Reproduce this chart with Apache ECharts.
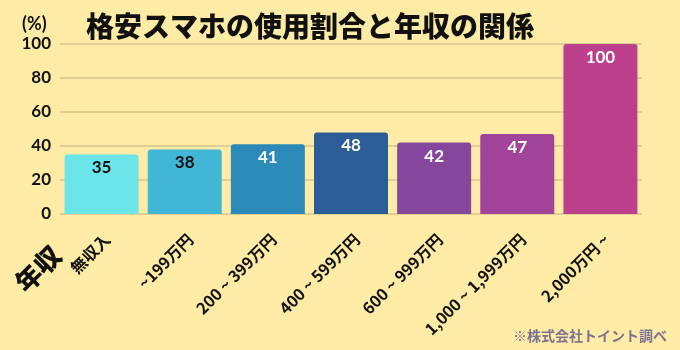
<!DOCTYPE html>
<html>
<head>
<meta charset="utf-8">
<script src="https://cdn.jsdelivr.net/npm/echarts@6/dist/echarts.min.js"></script>
<style>
  html, body { margin: 0; padding: 0; background: #feeba6; }
  #chart { width: 680px; height: 350px; }
</style>
</head>
<body>
<div id="chart"></div>
<script>
// 年収帯ごとの格安スマホ使用割合
const categories = ['無収入', '~199万円', '200 ~ 399万円', '400 ~ 599万円', '600 ~ 999万円', '1,000 ~ 1,999万円', '2,000万円 ~'];
const values = [35, 38, 41, 48, 42, 47, 100];
const barColors = ['#6ce5e8', '#41b6d6', '#2c8ab9', '#2d5d96', '#84479c', '#a3449b', '#bc3f8c'];
const labelColors = ['#111111', '#111111', '#ffffff', '#ffffff', '#ffffff', '#ffffff', '#ffffff'];
const yTicks = [0, 20, 40, 60, 80, 100];

const numFont = 'Lato, "Noto Sans", sans-serif';
const jpFont = '"Noto Sans CJK JP", sans-serif';

const chart = echarts.init(document.getElementById('chart'), null, { renderer: 'canvas' });
chart.setOption({
  backgroundColor: '#feeba6',
  animation: false,
  grid: { left: 60, right: 38, top: 44, bottom: 136 },
  title: [
    {
      text: '格安スマホの使用割合と年収の関係',
      left: 81, top: 7,
      textStyle: { fontFamily: jpFont, fontSize: 28, fontWeight: 900, color: '#111111' }
    },
    {
      text: '※株式会社トイント調べ',
      right: 8, top: 324,
      textStyle: { fontFamily: jpFont, fontSize: 14, fontWeight: 'bold', color: '#7a7391' }
    }
  ],
  graphic: [
    {
      type: 'text', left: 22, top: 15,
      style: { text: '(%)', font: 'bold 18px ' + numFont, fill: '#111111' }
    },
    {
      type: 'text', x: 38, y: 269, rotation: Math.PI / 4,
      style: { text: '年収', font: '900 26px ' + jpFont, fill: '#111111', align: 'center', verticalAlign: 'middle' }
    }
  ],
  xAxis: {
    type: 'category',
    data: categories,
    axisLine: { show: false },
    axisTick: { show: false },
    axisLabel: {
      rotate: 45,
      interval: 0,
      margin: 17,
      verticalAlign: 'top',
      fontFamily: jpFont,
      fontSize: 16,
      fontWeight: 'bold',
      color: '#111111'
    }
  },
  yAxis: {
    type: 'value',
    min: 0, max: 100, interval: 20,
    axisLine: { show: false },
    axisTick: { show: false },
    axisLabel: {
      margin: 9,
      fontFamily: numFont,
      fontSize: 17,
      fontWeight: 'bold',
      color: '#111111',
      formatter: v => (yTicks.includes(v) ? String(v) : '')
    },
    splitLine: { lineStyle: { color: '#d6c58c', width: 1.5 } }
  },
  series: [{
    type: 'bar',
    data: values.map((v, i) => ({
      value: v,
      itemStyle: { color: barColors[i] },
      label: { color: labelColors[i] }
    })),
    barCategoryGap: '11%',
    itemStyle: { borderRadius: [3, 3, 0, 0] },
    label: {
      show: true,
      position: 'insideTop',
      distance: 5,
      fontFamily: numFont,
      fontSize: 17,
      fontWeight: 'bold'
    }
  }]
});
</script>
</body>
</html>
